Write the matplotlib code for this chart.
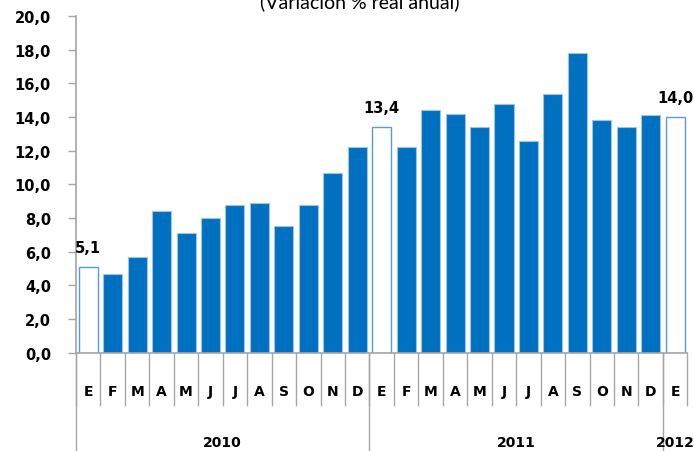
import matplotlib
matplotlib.use('Agg')
import matplotlib.pyplot as plt
from matplotlib.lines import Line2D

# data
months = ['E', 'F', 'M', 'A', 'M', 'J', 'J', 'A', 'S', 'O', 'N', 'D',
          'E', 'F', 'M', 'A', 'M', 'J', 'J', 'A', 'S', 'O', 'N', 'D',
          'E']
values = [5.1, 4.7, 5.7, 8.4, 7.1, 8.0, 8.8, 8.9, 7.5, 8.8, 10.7, 12.2,
          13.4, 12.2, 14.4, 14.2, 13.4, 14.8, 12.6, 15.4, 17.8, 13.8, 13.4, 14.1,
          14.0]
years = ['2010', '2011', '2012']
year_start = [0, 12, 24]
year_len = [12, 12, 1]
hollow = [0, 12, 24]          # January bars drawn without fill
labels = {0: '5,1', 12: '13,4', 24: '14,0'}

blue = '#0070C0'
edge = '#9DC3E6'
grey = '#A6A6A6'

fig = plt.figure(figsize=(6.94, 4.52), dpi=100)
ax = fig.add_axes([0.1095, 0.2175, 0.881, 0.7445])

x = list(range(len(values)))
for i, v in zip(x, values):
    if i in hollow:
        ax.bar(i, v, width=0.78, facecolor='white', edgecolor='#5B9BD5', linewidth=1.0)
    else:
        ax.bar(i, v, width=0.78, facecolor=blue, edgecolor=edge, linewidth=0.8)

for i, t in labels.items():
    ax.text(i, values[i] + 0.7, t, ha='center', va='bottom', fontsize=10.5,
            fontweight='bold', clip_on=False)

ax.set_xlim(-0.5, len(values) - 0.5)
ax.set_ylim(0, 20)
ax.set_yticks([v * 2 for v in range(11)])
ax.set_yticklabels([f'{v * 2:.1f}'.replace('.', ',') for v in range(11)],
                   fontsize=10.5, fontweight='bold')
ax.tick_params(axis='y', direction='out', length=6, color=grey, width=1, pad=12)
ax.set_xticks([])
for s in ['top', 'right']:
    ax.spines[s].set_visible(False)
ax.spines['left'].set_color(grey)
ax.spines['bottom'].set_color(grey)
ax.spines['left'].set_linewidth(1.2)
ax.spines['bottom'].set_linewidth(1.2)

trans = ax.get_xaxis_transform()
# month labels and short separators
for i, m in enumerate(months):
    ax.text(i, -0.115, m, transform=trans, ha='center', va='center',
            fontsize=10, fontweight='bold')
for i in range(len(months) + 1):
    ax.add_line(Line2D([i - 0.5, i - 0.5], [0, -0.155], transform=trans,
                       color=grey, linewidth=1, clip_on=False))
# year labels and long separators
for y, s, n in zip(years, year_start, year_len):
    ax.text(s + n / 2 - 0.5, -0.265, y, transform=trans, ha='center',
            va='center', fontsize=10, fontweight='bold', clip_on=False)
    ax.add_line(Line2D([s - 0.5, s - 0.5], [0, -0.3], transform=trans,
                       color=grey, linewidth=1, clip_on=False))

fig.text(0.519, 0.982, '(Variación % real anual)', ha='center', va='baseline',
         fontsize=14, family='Lato')

fig.savefig('out.png', dpi=100)
